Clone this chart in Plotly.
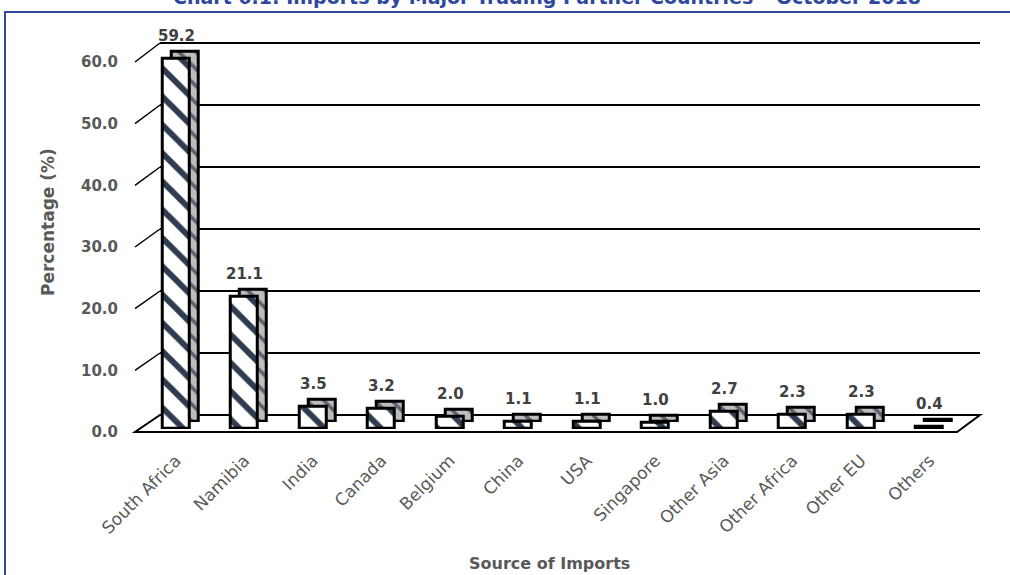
import plotly.graph_objects as go

# ---------------- data ----------------
categories = ["South Africa", "Namibia", "India", "Canada", "Belgium", "China",
              "USA", "Singapore", "Other Asia", "Other Africa", "Other EU", "Others"]
shares = [59.2, 21.1, 3.5, 3.2, 2.0, 1.1, 1.1, 1.0, 2.7, 2.3, 2.3, 0.4]
y_ticks = [0, 10, 20, 30, 40, 50, 60]
y_tick_labels = ["0.0", "10.0", "20.0", "30.0", "40.0", "50.0", "60.0"]
value_labels = ["59.2", "21.1", "3.5", "3.2", "2.0", "1.1", "1.1", "1.0", "2.7", "2.3", "2.3", "0.4"]
title_text = "Chart 6.1: Imports by Major Trading Partner Countries \u2013 October 2018"
y_title = "Percentage (%)"
x_title = "Source of Imports"

# ---------------- geometry (screen pixels) ----------------
W, H = 1010, 575
def px(x):
    return x / W
def py(y):
    return 1 - y / H

FONT = "DejaVu Sans"
GRAY = "#595959"
DARK = "#404040"
BLUE = "#2e48a0"

front_left, front_right = 135, 957
back_left, back_right = 160, 980
label_zero, label_top = 432, 62      # rows of 0 and 60 for the value-axis labels (front edge)
bar_zero, bar_top = 429, 54          # rows of 0 and 60 for the bar front faces
back_zero, back_top = 415, 43        # rows of 0 and 60 on the back wall
bar_c0, bar_pitch = 176, 68.5
n = len(categories)
bar_dom = [bar_c0 - bar_pitch / 2, bar_c0 + bar_pitch * (n - 0.5)]
ddx, ddy = 9, 7
bar_w = 0.40
ymax = 60
yext = 61                            # axis range slightly above the top tick

def top_px(zero, top):
    return zero - yext * (zero - top) / ymax

fig = go.Figure()

# back wall (gridlines) subplot: x / y
fig.add_trace(go.Scatter(x=[0], y=[0], mode="markers", marker=dict(opacity=0),
                         hoverinfo="skip", showlegend=False, xaxis="x", yaxis="y"))

# depth (side/top faces): x2 / y2  (drawn before the front faces)
fig.add_trace(go.Bar(x=categories, y=shares, width=bar_w, xaxis="x2", yaxis="y2",
                     marker=dict(color="#b3b3b3",
                                 line=dict(color="black", width=3),
                                 pattern=dict(shape="\\", fgcolor="#5a6270", bgcolor="#bdbdbd",
                                              size=12, solidity=0.3, fillmode="replace")),
                     hoverinfo="skip", showlegend=False))

# front faces: x3 / y3
fig.add_trace(go.Bar(x=categories, y=shares, width=bar_w, xaxis="x3", yaxis="y3",
                     marker=dict(color="white",
                                 line=dict(color="black", width=3),
                                 pattern=dict(shape="\\", fgcolor="#2f3b4f", bgcolor="white",
                                              size=20, solidity=0.3, fillmode="replace")),
                     hoverinfo="skip", showlegend=False))

# value-axis label carrier: x3 / y4
fig.add_trace(go.Scatter(x=[categories[0]], y=[0], mode="markers", marker=dict(opacity=0),
                         hoverinfo="skip", showlegend=False, xaxis="x3", yaxis="y4"))

hidden = dict(showgrid=False, showticklabels=False, zeroline=False, showline=False,
              ticks="", automargin=False, fixedrange=True)

layout = dict(
    width=W, height=H,
    margin=dict(l=0, r=0, t=0, b=0),
    paper_bgcolor="white", plot_bgcolor="rgba(0,0,0,0)",
    showlegend=False, hovermode=False, bargap=0,
    font=dict(family=FONT, color=GRAY),
    xaxis=dict(domain=[px(back_left), px(back_right)], range=[0, 1], anchor="y", **hidden),
    yaxis=dict(domain=[py(back_zero), py(top_px(back_zero, back_top))], range=[0, yext], anchor="x",
               tickvals=y_ticks, showgrid=True, gridcolor="black", gridwidth=1.5,
               showticklabels=False, zeroline=False, showline=False, ticks="",
               automargin=False, fixedrange=True),
    xaxis2=dict(domain=[px(bar_dom[0] + ddx), px(bar_dom[1] + ddx)], range=[-0.5, n - 0.5],
                anchor="y2", type="category", **hidden),
    yaxis2=dict(domain=[py(bar_zero - ddy), py(top_px(bar_zero, bar_top) - ddy)],
                range=[0, yext], anchor="x2", **hidden),
    xaxis3=dict(domain=[px(bar_dom[0]), px(bar_dom[1])], range=[-0.5, n - 0.5], anchor="y4",
                type="category", tickangle=-45, ticks="outside", ticklen=11,
                tickcolor="rgba(0,0,0,0)", tickfont=dict(family=FONT, size=17, color=GRAY),
                showgrid=False, zeroline=False, showline=False, automargin=False, fixedrange=True),
    yaxis3=dict(domain=[py(bar_zero), py(top_px(bar_zero, bar_top))], range=[0, yext],
                anchor="x3", **hidden),
    yaxis4=dict(domain=[py(label_zero), py(top_px(label_zero, label_top))], range=[0, yext],
                anchor="free", position=px(front_left), tickvals=y_ticks,
                ticktext=["<b>%s</b>" % t for t in y_tick_labels],
                tickfont=dict(family=FONT, size=15, color=GRAY),
                ticks="outside", ticklen=14, tickcolor="rgba(0,0,0,0)",
                showgrid=False, zeroline=False, showline=False, automargin=False, fixedrange=True),
)
fig.update_layout(**layout)

shapes = []
# outer frame
shapes.append(dict(type="rect", xref="paper", yref="paper", x0=px(5), y0=py(12), x1=1.05, y1=-0.05,
                   line=dict(color=BLUE, width=2), fillcolor="rgba(0,0,0,0)", layer="below"))
# floor
shapes.append(dict(type="path", xref="paper", yref="paper",
                   path="M %f,%f L %f,%f L %f,%f L %f,%f Z" % (
                       px(front_left), py(label_zero), px(front_right), py(label_zero),
                       px(back_right), py(back_zero), px(back_left), py(back_zero)),
                   line=dict(color="black", width=2), fillcolor="white", layer="below"))
# side-wall diagonals at each tick
for v in y_ticks[1:]:
    yf = label_zero - v * (label_zero - label_top) / ymax
    yb = back_zero - v * (back_zero - back_top) / ymax
    shapes.append(dict(type="line", xref="paper", yref="paper",
                       x0=px(front_left), y0=py(yf), x1=px(back_left), y1=py(yb),
                       line=dict(color="black", width=1.5), layer="below"))
fig.update_layout(shapes=shapes)

annotations = []
for c, v, t in zip(categories, shares, value_labels):
    annotations.append(dict(x=c, y=v, xref="x3", yref="y3", text="<b>%s</b>" % t,
                            showarrow=False, yanchor="middle", yshift=23,
                            font=dict(family=FONT, size=15, color=DARK)))
annotations.append(dict(x=px(48), y=py(222), xref="paper", yref="paper", text="<b>%s</b>" % y_title,
                        textangle=-90, showarrow=False, xanchor="center", yanchor="middle",
                        font=dict(family=FONT, size=17, color=GRAY)))
annotations.append(dict(x=px(549), y=py(563), xref="paper", yref="paper", text="<b>%s</b>" % x_title,
                        showarrow=False, xanchor="center", yanchor="middle",
                        font=dict(family=FONT, size=16, color=GRAY)))
annotations.append(dict(x=px(547), y=py(0), xref="paper", yref="paper", text="<b>%s</b>" % title_text,
                        showarrow=False, xanchor="center", yanchor="bottom", yshift=-10,
                        font=dict(family=FONT, size=19, color=BLUE)))
fig.update_layout(annotations=annotations)

fig.write_html("out.html", config=dict(displayModeBar=False),
               post_script="document.body.style.margin='0';document.body.style.overflow='hidden';")
